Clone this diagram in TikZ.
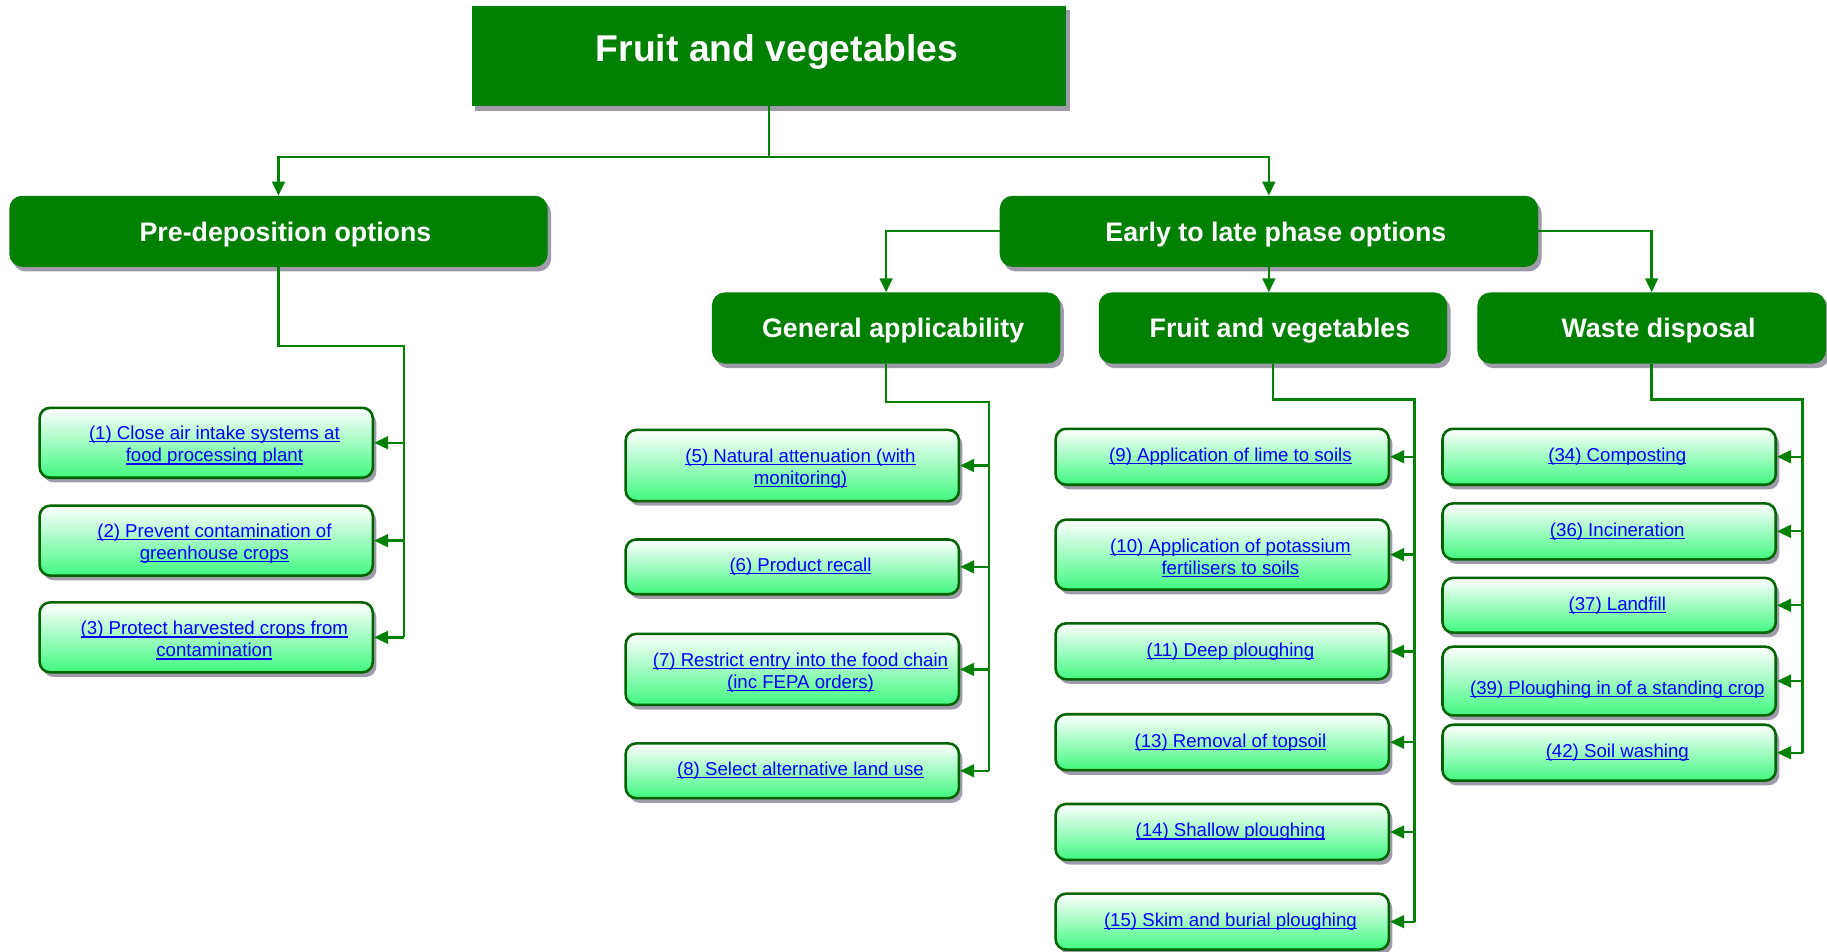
\documentclass[tikz,border=0pt]{standalone}
\usepackage{fontspec}
\setmainfont{Liberation Sans}
\usetikzlibrary{arrows.meta,shadows}

\definecolor{boxgreen}{RGB}{0,128,0}
\definecolor{wiregreen}{RGB}{0,128,0}
\definecolor{leafborder}{RGB}{0,100,0}
\definecolor{leafgreen}{RGB}{64,248,128}
\definecolor{shadowgray}{RGB}{160,155,170}
\definecolor{linkblue}{RGB}{0,0,255}

% underlined hyperlink-like line of text
\newcommand{\lnkline}[1]{\kern14pt\setbox0\hbox{#1}\rlap{\rule[-2.4pt]{\wd0}{1.1pt}}\box0}

\tikzset{
  boxshadow/.style={drop shadow={shadow xshift=3pt, shadow yshift=-4pt, fill=shadowgray, opacity=1}},
  titlebox/.style={boxshadow, fill=boxgreen, minimum width=510pt, minimum height=86pt, inner sep=0pt,
    text=white, text depth=14pt, font=\fontsize{32}{38}\selectfont\bfseries\hspace*{14pt}},
  headbox/.style={boxshadow, fill=boxgreen, rounded corners=11pt, minimum height=61pt, inner sep=0pt,
    text=white, text depth=0pt, font=\fontsize{23}{27}\selectfont\bfseries\hspace*{12pt}},
  leafbox/.style={boxshadow, draw=leafborder, line width=2.2pt, rounded corners=9pt,
    top color=white, middle color=leafgreen!45!white, bottom color=leafgreen,
    minimum width=286pt, inner sep=0pt, align=center, text=linkblue, font=\fontsize{16}{19}\selectfont},
  wire/.style={draw=wiregreen, line width=2pt},
  wirearrow/.style={wire, -{Triangle[length=12pt,width=11pt]}},
}

\begin{document}
\begin{tikzpicture}[x=1pt,y=-1pt]

\begin{scope}[scale=1]

\useasboundingbox (0,0) rectangle (1568,817);

% top level
\node[titlebox] (root) at (660,48) {Fruit and vegetables};

\node[headbox, minimum width=462pt] (pre) at (239,198.5) {Pre-deposition options};
\node[headbox, minimum width=462pt] (early) at (1089,198.5) {Early to late phase options};

\node[headbox, minimum width=299pt] (general) at (760.5,281.5) {General applicability};
\node[headbox, minimum width=299pt] (fruit) at (1092.5,281.5) {Fruit and vegetables};
\node[headbox, minimum width=299pt] (waste) at (1417.5,281.5) {Waste disposal};

\coordinate (split) at (660,135);
\draw[wire] (root.south) -- (split);
\draw[wirearrow] (split) -| (pre.north);
\draw[wirearrow] (split) -| (early.north);

\draw[wirearrow] (early.west) -| (general.north);
\draw[wirearrow] (early.south) -- (early.south |- fruit.north);
\draw[wirearrow] (early.east) -| (waste.north);


% pre-deposition options
\foreach \n/\y/\h/\txt in {
  p1/380/60/{\rule{0pt}{17pt}\lnkline{(1) Close air intake systems at}\\\lnkline{food processing plant}},
  p2/464/60/{\rule{0pt}{17pt}\lnkline{(2) Prevent contamination of}\\\lnkline{greenhouse crops}},
  p3/547/60/{\rule{0pt}{17pt}\lnkline{(3) Protect harvested crops from}\\\lnkline{contamination}}}
\node[leafbox, minimum height=\h pt] (\n) at (177,\y) {\txt};

\coordinate (pbus) at (347,297);
\draw[wire] (pre.south) |- (pbus) -- (pbus |- p3.east);
\foreach \n in {p1,p2,p3}
\draw[wirearrow] (pbus |- \n.east) -- (\n.east);


% general applicability
\foreach \n/\y/\h/\txt in {
  g5/399.5/61/{\rule{0pt}{17pt}\lnkline{(5) Natural attenuation (with}\\\lnkline{monitoring)}},
  g6/486.5/47/{\lnkline{(6) Product recall}},
  g7/574.5/61/{\rule{0pt}{17pt}\lnkline{(7) Restrict entry into the food chain}\\\lnkline{(inc FEPA orders)}},
  g8/661.5/47/{\lnkline{(8) Select alternative land use}}}
\node[leafbox, minimum height=\h pt] (\n) at (680,\y) {\txt};

\coordinate (gbus) at (849,345);
\draw[wire] (general.south) |- (gbus) -- (gbus |- g8.east);
\foreach \n in {g5,g6,g7,g8}
\draw[wirearrow] (gbus |- \n.east) -- (\n.east);


% fruit and vegetables
\foreach \n/\y/\h/\txt in {
  f9/392/48/{\lnkline{(9) Application of lime to soils}},
  f10/476/60/{\rule{0pt}{17pt}\lnkline{(10) Application of potassium}\\\lnkline{fertilisers to soils}},
  f11/559/48/{\lnkline{(11) Deep ploughing}},
  f13/637/48/{\lnkline{(13) Removal of topsoil}},
  f14/714/48/{\lnkline{(14) Shallow ploughing}},
  f15/791/48/{\lnkline{(15) Skim and burial ploughing}}}
\node[leafbox, minimum height=\h pt] (\n) at (1049,\y) {\txt};

\coordinate (fbus) at (1214,343);
\draw[wire] (fruit.south) |- (fbus) -- (fbus |- f15.east);
\foreach \n in {f9,f10,f11,f13,f14,f15}
\draw[wirearrow] (fbus |- \n.east) -- (\n.east);


% waste disposal
\foreach \n/\y/\h/\txt in {
  w34/392/48/{\lnkline{(34) Composting}},
  w36/456/48/{\lnkline{(36) Incineration}},
  w37/519.5/47/{\lnkline{(37) Landfill}},
  w39/584.5/59/{\rule{0pt}{26pt}\lnkline{(39) Ploughing in of a standing crop}},
  w42/646/48/{\lnkline{(42) Soil washing}}}
\node[leafbox, minimum height=\h pt] (\n) at (1381,\y) {\txt};

\coordinate (wbus) at (1547,343);
\draw[wire] (waste.south) |- (wbus) -- (wbus |- w42.east);
\foreach \n in {w34,w36,w37,w39,w42}
\draw[wirearrow] (wbus |- \n.east) -- (\n.east);

\end{scope}

\end{tikzpicture}
\end{document}
